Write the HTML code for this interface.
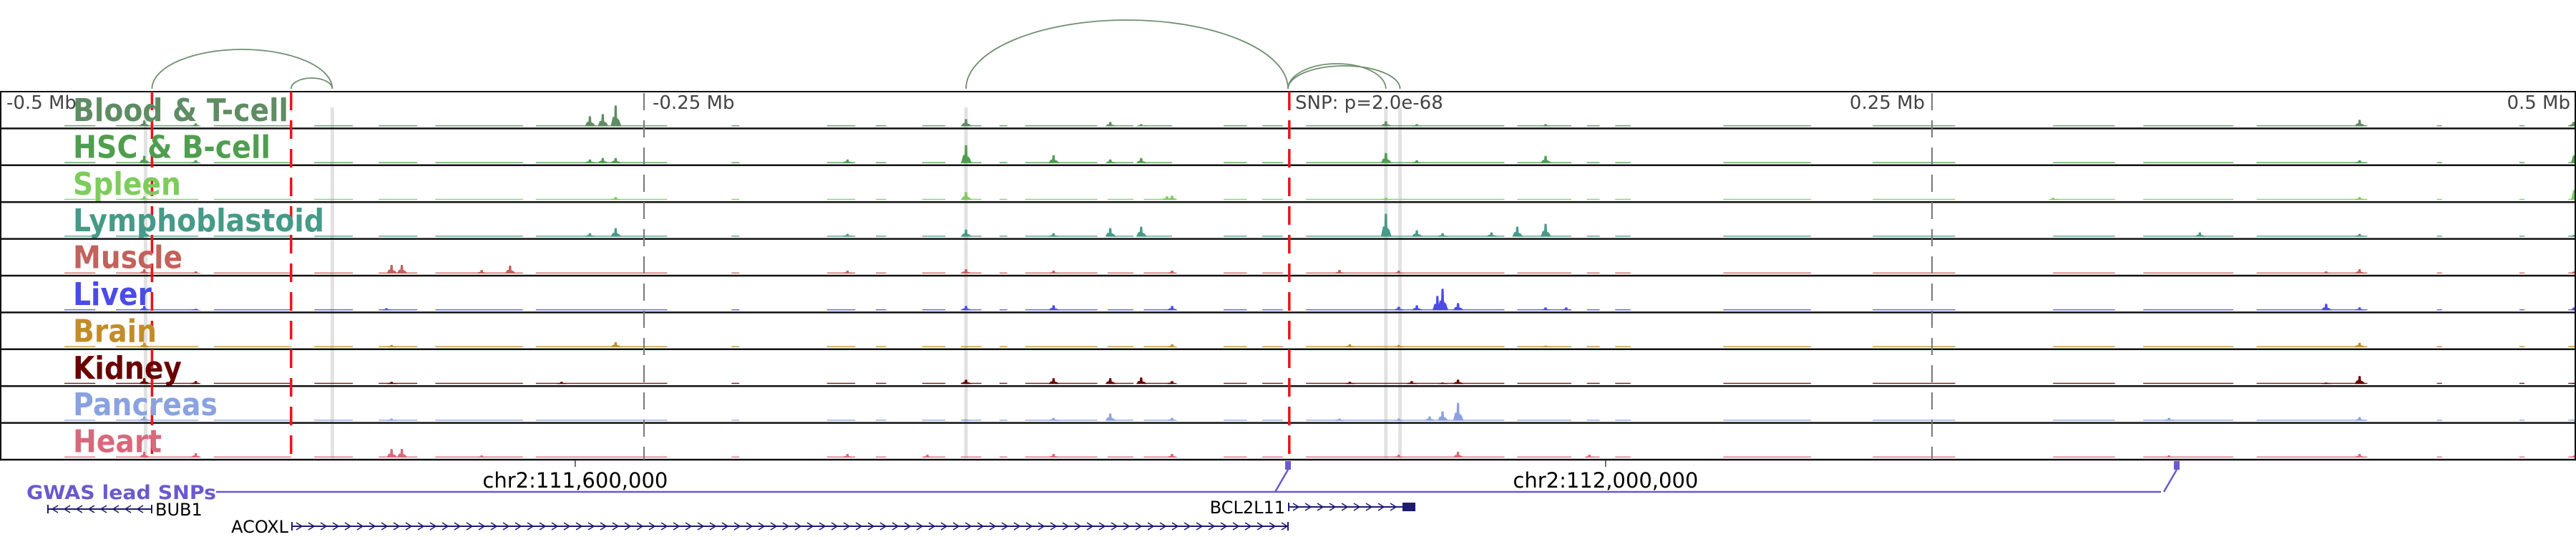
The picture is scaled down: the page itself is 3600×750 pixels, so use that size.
<!DOCTYPE html>
<html><head><meta charset="utf-8">
<style>
html,body{margin:0;padding:0;background:#fff;}
svg{display:block;}
</style></head>
<body>
<svg id="chart" xmlns="http://www.w3.org/2000/svg" width="3600" height="750" viewBox="0 0 3600 750" font-family="'DejaVu Sans','Liberation Sans',sans-serif">
<rect x="0" y="0" width="3600" height="750" fill="#fff"/>
<g id="bands"></g>
<g id="tracks"></g>
<g id="overlay"></g>
<g id="arcs"></g>
<g id="labels"></g>
<g id="ticks"></g>
<g id="bottom"></g>
</svg>
<script>
// ---- data (positions in kb relative to lead SNP) ----
const trackNames = ["Blood & T-cell","HSC & B-cell","Spleen","Lymphoblastoid","Muscle","Liver","Brain","Kidney","Pancreas","Heart"];
const trackColors = ["#5e8c63","#4f9e4f","#7dcc5c","#469a88","#c2625c","#4b4be8","#c28d28","#6a0000","#8aa2e0","#d8697c"];
const labelWidths = [301,276,151,351,153,110,117,152,202,124];
const coverage = [[-475,-463],[-455,-423],[-417,-387],[-378,-363],[-353,-338],[-331,-297],[-292,-241],[-216,-213],[-179,-168],[-160,-156],[-142,-133],[-127,-119],[-112,-109],[-102,-74],[-70,-60],[-56,-45],[-25,-16],[-10,-2],[7,84],[89,110],[116,121],[127,133],[169,203],[227,259],[297,321],[332,367],[376,419],[446,448],[478,480],[497,500]];
const peaksBlood = [[-444,8],[-424,4],[-271,14],[-266,17],[-261,29],[-125,10],[-69,6],[-57,3],[38,7],[50,3],[100,3],[416,9],[499,6]];
const peaksHSC = [[-444,10],[-424,4],[-271,5],[-266,7],[-261,7],[-171,5],[-125,25],[-91,11],[-69,5],[-57,7],[38,14],[50,4],[100,10],[416,4],[500,24]];
const peaksSpleen = [[-444,5],[-261,4],[-125,11],[-45,6],[-47,5],[38,3],[297,3],[416,4],[500,31]];
const peaksLympho = [[-444,12],[-271,5],[-261,12],[-171,4],[-125,10],[-91,5],[-69,12],[-57,14],[38,32],[50,9],[60,5],[79,6],[89,14],[100,18],[354,6],[416,4],[500,6]];
const peaksMuscle = [[-444,6],[-424,3],[-348,12],[-344,12],[-313,5],[-302,11],[-171,4],[-125,6],[-91,4],[-45,4],[20,5],[43,4],[403,3],[416,6],[500,6]];
const peaksLiver = [[-444,6],[-424,2],[-350,3],[-125,6],[-91,7],[-45,6],[43,5],[50,7],[58,20],[60,30],[66,10],[100,4],[108,4],[403,9],[416,4],[500,9]];
const peaksBrain = [[-444,6],[-348,3],[-261,7],[-45,4],[24,4],[43,3],[100,2],[416,6],[500,3]];
const peaksKidney = [[-444,8],[-424,4],[-348,3],[-282,3],[-125,6],[-91,8],[-69,8],[-57,9],[-45,4],[24,3],[48,4],[60,2],[66,6],[403,2],[416,11],[500,3]];
const peaksPancreas = [[-444,6],[-348,3],[-125,2],[-91,4],[-69,10],[-45,4],[20,3],[43,3],[55,6],[60,13],[66,25],[342,4],[416,5],[500,3]];
const peaksHeart = [[-444,8],[-424,6],[-348,12],[-344,12],[-313,3],[-171,5],[-140,4],[-91,5],[-45,5],[43,4],[66,8],[117,4],[342,3],[416,5],[500,6]];
const allPeaks = [peaksBlood,peaksHSC,peaksSpleen,peaksLympho,peaksMuscle,peaksLiver,peaksBrain,peaksKidney,peaksPancreas,peaksHeart];
const tickKb = [-500,-250,250,500];
const tickText = ["-0.5 Mb","-0.25 Mb","0.25 Mb","0.5 Mb"];
const snpLabel = "SNP: p=2.0e-68";
const redLinesKb = [-441,-387,0.5];
const grayBandsKb = [-443.5,-371,-125,38,43.5];
const arcsKb = [[-441,-371,55],[-387,-371,15],[-125,0,96],[0,38,35],[0,43.5,32]];
const coordLabelKb = [-276.7,123.3];
const coordLabels = ["chr2:111,600,000","chr2:112,000,000"];
const gwasKb = [0,345];

// ---- axis functions ----
const NS="http://www.w3.org/2000/svg";
const X = kb => 1800 + kb*3.6;
const top0=128, rowH=51.4;
const rowTop = i => top0 + i*rowH;
const baseY = i => rowTop(i+1) - 3;
function mk(tag, attrs, parent){const e=document.createElementNS(NS,tag);for(const k in attrs)e.setAttribute(k,attrs[k]);parent.appendChild(e);return e;}

const gB=document.getElementById('bands'), gT=document.getElementById('tracks'), gO=document.getElementById('overlay'),
 gA=document.getElementById('arcs'), gL=document.getElementById('labels'), gK=document.getElementById('ticks'), gBot=document.getElementById('bottom');

grayBandsKb.forEach(kb=>{
  const r=mk('rect',{x:X(kb)-2.5,y:top0+22,width:5,height:rowTop(10)-top0-24,fill:'#e2e2e2'},gB);
  
  
});

trackNames.forEach((name,i)=>{
  const g=mk('g',{},gT);
  
  
  const col=trackColors[i], by=baseY(i);
  coverage.forEach(c=>{
    const s=mk('rect',{x:X(c[0]),y:by-1.5,width:Math.max(2,X(c[1])-X(c[0])),height:1.5,fill:col,'fill-opacity':0.85},g);
    
    
  });
  allPeaks[i].forEach(p=>{
    const x=X(p[0]), h=p[1];
    const pk=mk('path',{d:`M${x-7},${by} L${x-4},${by-h*0.45} L${x-2},${by-h*0.45} L${x-1.5},${by-h} L${x+1.5},${by-h} L${x+2},${by-h*0.4} L${x+5},${by-h*0.3} L${x+8},${by} Z`,fill:col},g);
    
    
  });
  const ln=mk('line',{x1:0,x2:3600,y1:rowTop(i+1),y2:rowTop(i+1),stroke:'#111','stroke-width':2.5},g);
  
  
  const t=mk('text',{x:102,y:rowTop(i)+41,'font-size':44,'font-weight':'bold',fill:col,textLength:labelWidths[i],lengthAdjust:'spacingAndGlyphs'},gL);
  t.textContent=name;
  
  
});
const fr=mk('rect',{x:1,y:top0,width:3598,height:rowTop(10)-top0,fill:'none',stroke:'#111','stroke-width':2},gO);



[-250,250].forEach(kb=>{
  const l=mk('line',{x1:X(kb),x2:X(kb),y1:top0+2,y2:rowTop(10),stroke:'#777','stroke-width':2,'stroke-dasharray':'24,14'},gO);
  
  
});
redLinesKb.forEach(kb=>{
  const l=mk('line',{x1:X(kb),x2:X(kb),y1:top0,y2:rowTop(10),stroke:'#e8141a','stroke-width':3.5,'stroke-dasharray':'26,14'},gO);
  
  
});

arcsKb.forEach(a=>{
  const x1=X(a[0]), x2=X(a[1]), rx=(x2-x1)/2, ry=a[2], by=124;
  const p=mk('path',{d:`M${x1},${by} A${rx},${ry} 0 0 1 ${x2},${by}`,fill:'none',stroke:'#6f8f6f','stroke-width':1.8},gA);
  
  
});

tickKb.forEach((kb,i)=>{
  const anchor = i<=1?'start':'end';
  const x = i===0?9:(i===1?X(kb)+12:(i===2?X(kb)-10:3592));
  const t=mk('text',{x:x,y:152,'font-size':26,fill:'#444','text-anchor':anchor},gK);
  t.textContent=tickText[i];
  
  
});
const st=mk('text',{x:1810,y:152,'font-size':26,fill:'#444'},gK);
st.textContent=snpLabel;



coordLabelKb.forEach((kb,i)=>{
  const tk=mk('line',{x1:X(kb),x2:X(kb),y1:643,y2:652,stroke:'#444','stroke-width':1.5},gBot);
  
  
  const t=mk('text',{x:X(kb),y:681,'font-size':29,fill:'#000','text-anchor':'middle'},gBot);
  t.textContent=coordLabels[i];
  
  
});

const gw=mk('text',{x:37,y:697,'font-size':27,'font-weight':'bold',fill:'#6a5acd',textLength:265,lengthAdjust:'spacingAndGlyphs'},gBot);
gw.textContent="GWAS lead SNPs";


const gl=mk('line',{x1:302,x2:3020,y1:687,y2:687,stroke:'#6a5acd','stroke-width':2.5},gBot);


gwasKb.forEach(kb=>{
  const x=X(kb);
  const r=mk('rect',{x:x-4,y:644,width:8,height:12,fill:'#6a5acd'},gBot);
  
  
  const l=mk('line',{x1:x,y1:656,x2:x-18,y2:687,stroke:'#6a5acd','stroke-width':2.5},gBot);
  
  
});

function gene(name,x1,x2,y,dir,labelSide,endBox){
  const g=mk('g',{},gBot);
  
  
  mk('line',{x1:x1,x2:x2,y1:y,y2:y,stroke:'#1c1c70','stroke-width':2},g);
  for(let x=x1+10;x<x2-4;x+=17){
    const d = dir>0 ? `M${x-4},${y-5} L${x+4},${y} L${x-4},${y+5}` : `M${x+4},${y-5} L${x-4},${y} L${x+4},${y+5}`;
    mk('path',{d:d,fill:'none',stroke:'#1c1c70','stroke-width':1.6},g);
  }
  mk('line',{x1:x2,x2:x2,y1:y-6,y2:y+6,stroke:'#1c1c70','stroke-width':2},g);
  mk('line',{x1:x1,x2:x1,y1:y-6,y2:y+6,stroke:'#1c1c70','stroke-width':2},g);
  if(endBox) mk('rect',{x:x2-2,y:y-6,width:18,height:12,fill:'#1c1c70'},g);
  const t=mk('text',{x: labelSide==='right'? x2+5 : x1-5, y:y+9,'font-size':24,fill:'#000','text-anchor': labelSide==='right'?'start':'end'},g);
  t.textContent=name;
  
  
}
gene("BUB1",67,212,711,-1,'right',false);
gene("ACOXL",408,1800,735,1,'left',false);
gene("BCL2L11",1801,1962,708,1,'left',true);
</script>
</body></html>
